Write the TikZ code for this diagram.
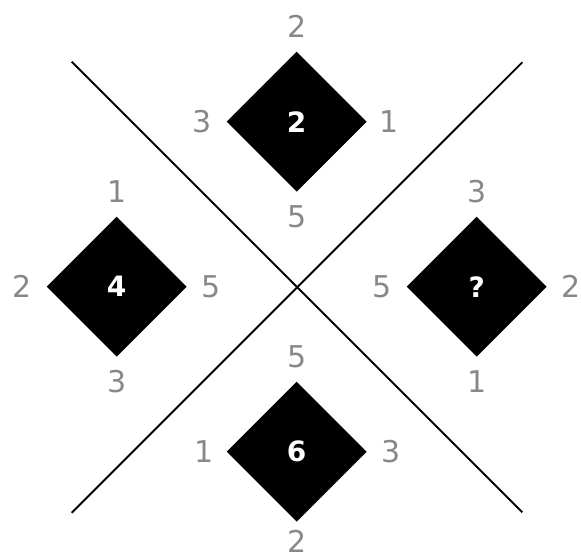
\documentclass[tikz,border=0pt]{standalone}
\usepackage{fontspec}
\setmainfont{DejaVu Sans}
\usetikzlibrary{shapes.geometric}
\definecolor{lblgray}{RGB}{135,135,140}
\begin{document}
\begin{tikzpicture}[x=1pt,y=-1pt,
  dia/.style={diamond, fill=black, draw=none, minimum width=140pt, minimum height=140pt, inner sep=0pt, text=white, font=\fontsize{28}{28}\selectfont\bfseries},
  lbl/.style={text=lblgray, font=\fontsize{30}{30}\selectfont, inner sep=0pt},
  crossline/.style={line width=1.9pt, draw=black}]
\useasboundingbox (0,0) rectangle (581,558);
% cross lines
\coordinate (ul) at (71.7,61.7);
\coordinate (ur) at (522.3,62.3);
\coordinate (ll) at (71.7,512.7);
\coordinate (lr) at (522.3,512.3);
\draw[crossline] (ul) -- (lr);
\draw[crossline] (ur) -- (ll);
% diamonds
\node[dia] (dt) at (296.7,121.7) {2};
\node[dia] (dl) at (116.7,286.7) {4};
\node[dia] (dr) at (476.7,286.7) {?};
\node[dia] (db) at (296.7,451.7) {6};
% labels top diamond
\node[lbl] (dtn) at ([yshift=25pt]dt.north) {2};
\node[lbl] (dtw) at ([xshift=-24pt]dt.west) {3};
\node[lbl] (dte) at ([xshift=22pt]dt.east) {1};
\node[lbl] (dts) at ([yshift=-25pt]dt.south) {5};
% labels left diamond
\node[lbl] (dln) at ([yshift=25pt]dl.north) {1};
\node[lbl] (dlw) at ([xshift=-24pt]dl.west) {2};
\node[lbl] (dle) at ([xshift=24pt]dl.east) {5};
\node[lbl] (dls) at ([yshift=-25pt]dl.south) {3};
% labels right diamond
\node[lbl] (drn) at ([yshift=25pt]dr.north) {3};
\node[lbl] (drw) at ([xshift=-24pt]dr.west) {5};
\node[lbl] (dre) at ([xshift=24pt]dr.east) {2};
\node[lbl] (drs) at ([yshift=-25pt]dr.south) {1};
% labels bottom diamond
\node[lbl] (dbn) at ([yshift=25pt]db.north) {5};
\node[lbl] (dbw) at ([xshift=-22pt]db.west) {1};
\node[lbl] (dbe) at ([xshift=24pt]db.east) {3};
\node[lbl] (dbs) at ([yshift=-19pt]db.south) {2};
\end{tikzpicture}
\end{document}
